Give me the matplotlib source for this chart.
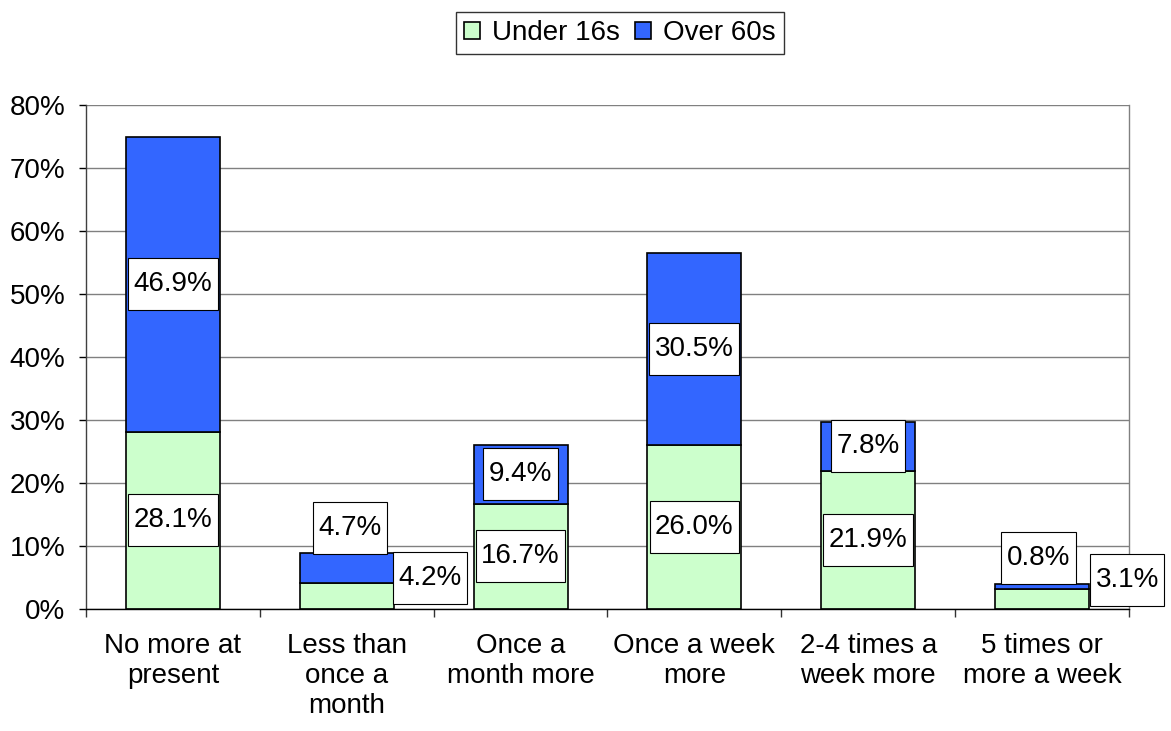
import numpy as np
import matplotlib.pyplot as plt
from matplotlib.patches import Rectangle

plt.rcParams['font.family'] = ['Liberation Sans', 'DejaVu Sans']

categories = ['No more at\npresent', 'Less than\nonce a\nmonth', 'Once a\nmonth more',
              'Once a week\nmore', '2-4 times a\nweek more', '5 times or\nmore a week']
under_16s = [28.1, 4.2, 16.7, 26.0, 21.9, 3.1]
over_60s = [46.9, 4.7, 9.4, 30.5, 7.8, 0.8]

# labels Excel had to move by hand: (series, bar) -> (x offset, y)
moved = {('under', 1): (0.48, 4.9), ('over', 1): (0.02, 12.9),
         ('under', 5): (0.49, 4.6), ('over', 5): (-0.02, 8.1)}

green = '#CCFFCC'
blue = '#3366FF'
fs = 20

fig = plt.figure(figsize=(11.71, 7.31), dpi=100)
ax = fig.add_axes([86/1171, 1 - 609/731, (1129-86)/1171, (609-105)/731])

x = np.arange(len(categories))
ax.bar(x, under_16s, width=0.54, color=green, edgecolor='black', linewidth=1.2,
       label='Under 16s', zorder=2)
ax.bar(x, over_60s, width=0.54, bottom=under_16s, color=blue, edgecolor='black',
       linewidth=1.2, label='Over 60s', zorder=2)

ax.set_xlim(-0.5, 5.5)
ax.set_ylim(0, 80)
ax.set_yticks(np.arange(0, 81, 10))
ax.set_yticklabels(['%d%%' % v for v in range(0, 81, 10)], fontsize=fs)
ax.yaxis.grid(True, color='#808080', linewidth=1, zorder=0)
ax.set_axisbelow(True)

ax.set_xticks(x)
ax.set_xticklabels(categories, fontsize=fs, linespacing=1.2)
ax.set_xticks(np.arange(-0.5, 6, 1), minor=True)
ax.tick_params(axis='x', which='major', length=0, pad=17)
ax.tick_params(axis='x', which='minor', length=6, width=1, color='#333333')
ax.tick_params(axis='y', length=5, width=1, pad=10, color='black')

ax.spines['top'].set_visible(False)
ax.spines['right'].set_color('#808080')
ax.spines['left'].set_color('#404040')
ax.spines['bottom'].set_color('black')
for s in ax.spines.values():
    s.set_linewidth(1)

texts = []
for i in range(len(categories)):
    for name, val, base in [('under', under_16s[i], 0), ('over', over_60s[i], under_16s[i])]:
        if (name, i) in moved:
            dx, y = moved[(name, i)]
        else:
            dx, y = 0, base + val / 2
        t = ax.text(i + dx, y, '%.1f%%' % val, fontsize=fs, ha='center', va='center',
                    zorder=5, clip_on=False)
        texts.append(t)

leg = fig.legend(loc='center', bbox_to_anchor=(620/1171, 1 - 33/731), ncol=2,
                 fontsize=fs, frameon=True, fancybox=False, shadow=False,
                 handlelength=0.55, handleheight=0.55, handletextpad=0.45,
                 columnspacing=0.55, borderpad=0.3, borderaxespad=0)
leg.get_frame().set_edgecolor('black')
leg.get_frame().set_linewidth(1)

# white boxes behind the data labels, sized in pixels like Excel's
fig.canvas.draw()
r = fig.canvas.get_renderer()
for t in texts:
    bb = t.get_window_extent(r)
    cx = (bb.x0 + bb.x1) / 2
    cy = (bb.y0 + bb.y1) / 2
    w = bb.width + 11
    h = 52
    fig.patches.append(Rectangle((cx - w/2, cy - h/2), w, h, transform=None,
                                 facecolor='white', edgecolor='black', linewidth=0.8,
                                 zorder=4))
# draw texts above the figure-level boxes
for t in texts:
    t.remove()
    fig.texts.append(t)
    t.set_figure(fig)

fig.savefig('out.png', dpi=100)
